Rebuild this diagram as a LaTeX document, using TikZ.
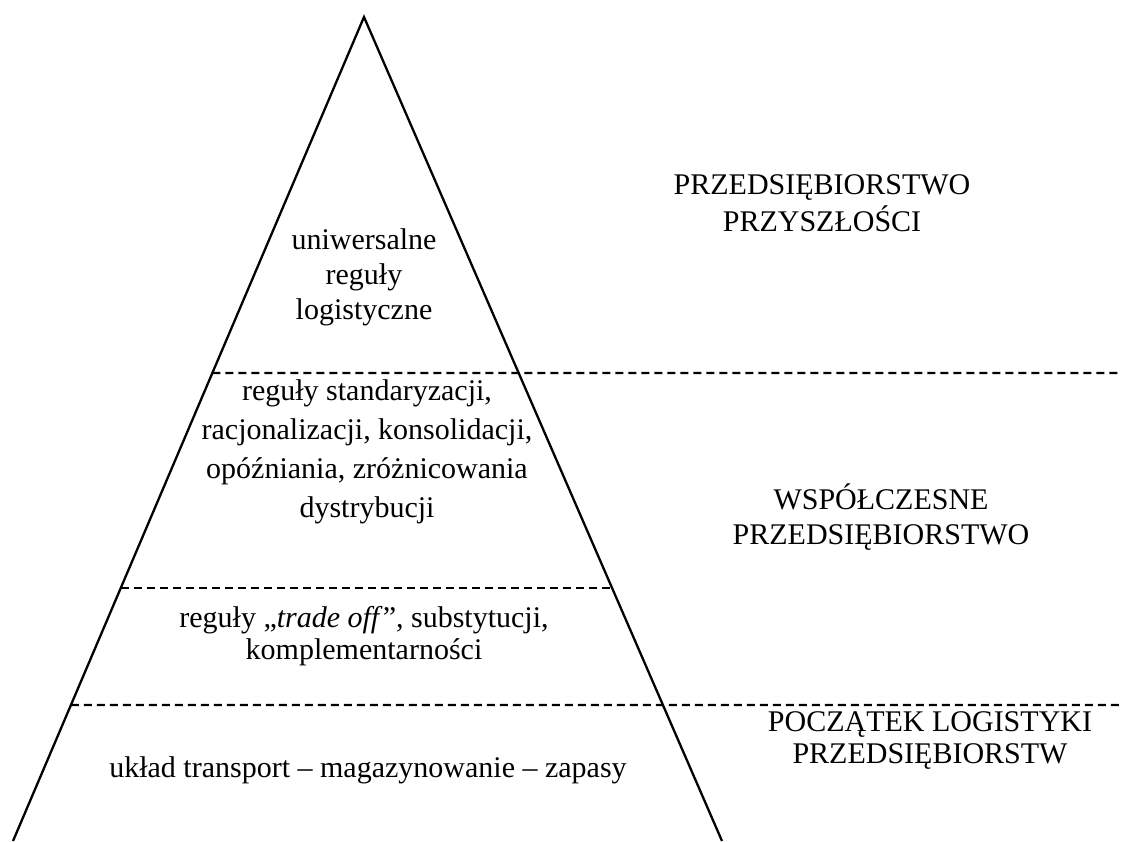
\documentclass[tikz,border=0pt]{standalone}
\usepackage{fontspec}
\setmainfont{Liberation Serif}
\usetikzlibrary{calc}
\begin{document}
\begin{tikzpicture}[x=1pt,y=-1pt,
  edge/.style={line width=2.3pt, line join=miter},
  sep/.style={line width=2.3pt, dash pattern=on 8pt off 5pt},
  txt/.style={align=center, inner sep=0pt},
  fs/.style={font=\fontsize{30}{#1}\selectfont}]
\useasboundingbox (0,0) rectangle (1121,841);

% pyramid outline
\coordinate (apex) at (364,17);
\coordinate (bl) at (13,841);
\coordinate (br) at (722,841);
\draw[edge] (bl) -- (apex) -- (br);

% level separators
\coordinate (l1) at ($(apex)!0.432!(bl)$);
\coordinate (r1) at (1121,373);
\coordinate (l2) at ($(apex)!0.693!(bl)$);
\coordinate (r2) at ($(apex)!0.693!(br)$);
\coordinate (l3) at ($(apex)!0.835!(bl)$);
\coordinate (r3) at (1121,705);
\draw[sep] (l1) -- (r1);
\draw[sep] (l2) -- (r2);
\draw[sep] (l3) -- (r3);

% rules inside the pyramid
\node[txt, fs=35] (univ) at (364,277) {uniwersalne\\reguły\\logistyczne};
\node[txt, fs=39] (stand) at (367,452) {reguły standaryzacji,\\racjonalizacji, konsolidacji,\\opóźniania, zróżnicowania\\dystrybucji};
\node[txt, fs=32] (trade) at (364,636) {reguły „\textit{trade off}”, substytucji,\\komplementarności};
\node[txt, fs=35] (uklad) at (368,770) {układ transport – magazynowanie – zapasy};

% stages of the enterprise
\node[txt, fs=37] (future) at (822,203) {PRZEDSIĘBIORSTWO\\PRZYSZŁOŚCI};
\node[txt, fs=35] (modern) at (881,517) {WSPÓŁCZESNE\\PRZEDSIĘBIORSTWO};
\node[txt, fs=32] (start) at (930,741) {POCZĄTEK LOGISTYKI\\PRZEDSIĘBIORSTW};
\end{tikzpicture}
\end{document}
